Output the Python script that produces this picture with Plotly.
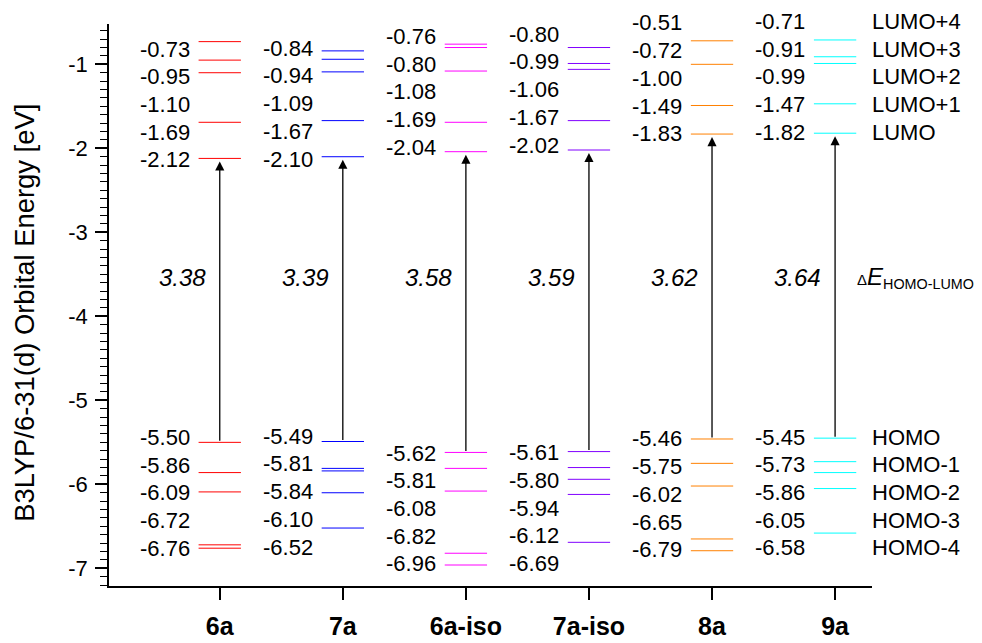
import plotly.graph_objects as go

# ---------------- data ----------------
categories = ["6a", "7a", "6a-iso", "7a-iso", "8a", "9a"]
colors = ["#FF0000", "#0000FF", "#FF00FF", "#8000FF", "#FF8000", "#00FFFF"]

lumo   = [-2.12, -2.10, -2.04, -2.02, -1.83, -1.82]
lumo_1 = [-1.69, -1.67, -1.69, -1.67, -1.49, -1.47]
lumo_2 = [-1.10, -1.09, -1.08, -1.06, -1.00, -0.99]
lumo_3 = [-0.95, -0.94, -0.80, -0.99, -0.72, -0.91]
lumo_4 = [-0.73, -0.84, -0.76, -0.80, -0.51, -0.71]

homo   = [-5.50, -5.49, -5.62, -5.61, -5.46, -5.45]
homo_1 = [-5.86, -5.81, -5.81, -5.80, -5.75, -5.73]
homo_2 = [-6.09, -5.84, -6.08, -5.94, -6.02, -5.86]
homo_3 = [-6.72, -6.10, -6.82, -6.12, -6.65, -6.05]
homo_4 = [-6.76, -6.52, -6.96, -6.69, -6.79, -6.58]

gap = [3.38, 3.39, 3.58, 3.59, 3.62, 3.64]

lumo_names = ["LUMO", "LUMO+1", "LUMO+2", "LUMO+3", "LUMO+4"]
homo_names = ["HOMO", "HOMO-1", "HOMO-2", "HOMO-3", "HOMO-4"]
y_ticks = [-7, -6, -5, -4, -3, -2, -1]

# ---------------- layout constants ----------------
HALF_W = 0.172        # half width of a level line (x units)
LABEL_STEP = 27.7     # px between stacked value labels
GAP_Y = -3.54         # vertical position of the gap labels
FONT = "Liberation Sans, Arial, sans-serif"
# per-column vertical nudge (px) of the label stacks
LUMO_NUDGE = [-1.4, -2.3, 4.4, 5.0, 0.3, 1.0]
HOMO_NUDGE = [5.0, 5.3, -0.6, -1.3, 0.0, 1.0]

lumo_sets = [lumo, lumo_1, lumo_2, lumo_3, lumo_4]
homo_sets = [homo, homo_1, homo_2, homo_3, homo_4]

fig = go.Figure()
annotations = []

for i, cat in enumerate(categories):
    xc = i + 1
    xs, ys = [], []
    for s in lumo_sets + homo_sets:
        xs += [xc - HALF_W, xc + HALF_W, None]
        ys += [s[i], s[i], None]
    fig.add_trace(go.Scatter(x=xs, y=ys, mode="lines",
                             line=dict(color=colors[i], width=1),
                             hoverinfo="skip", showlegend=False))
    # value labels (LUMO stack upward, HOMO stack downward)
    for k, s in enumerate(lumo_sets):
        annotations.append(dict(x=xc, y=lumo[i], xref="x", yref="y",
                                text=f"{s[i]:.2f}", showarrow=False,
                                xanchor="right", yanchor="middle",
                                xshift=-28, yshift=LUMO_NUDGE[i] + LABEL_STEP * k,
                                font=dict(size=22, family=FONT, color="black")))
    for k, s in enumerate(homo_sets):
        annotations.append(dict(x=xc, y=homo[i], xref="x", yref="y",
                                text=f"{s[i]:.2f}", showarrow=False,
                                xanchor="right", yanchor="middle",
                                xshift=-28, yshift=HOMO_NUDGE[i] - LABEL_STEP * k,
                                font=dict(size=22, family=FONT, color="black")))
    # arrow HOMO -> LUMO
    annotations.append(dict(x=xc, y=lumo[i], ax=xc, ay=homo[i],
                            xref="x", yref="y", axref="x", ayref="y",
                            text="", showarrow=True, arrowhead=2,
                            arrowsize=1.4, arrowwidth=1.3, arrowcolor="black",
                            standoff=3))
    # gap label
    annotations.append(dict(x=xc, y=GAP_Y, xref="x", yref="y",
                            text=f"<i>{gap[i]:.2f}</i>", showarrow=False,
                            xanchor="right", yanchor="middle", xshift=-12,
                            font=dict(size=24, family=FONT, color="black")))

# orbital names on the right (aligned with last column's labels)
last = len(categories) - 1
for k, name in enumerate(lumo_names):
    annotations.append(dict(x=last + 1, y=lumo[last], xref="x", yref="y",
                            text=name, showarrow=False, xanchor="left",
                            yanchor="middle", xshift=35,
                            yshift=LUMO_NUDGE[last] + LABEL_STEP * k,
                            font=dict(size=22, family=FONT, color="black")))
for k, name in enumerate(homo_names):
    annotations.append(dict(x=last + 1, y=homo[last], xref="x", yref="y",
                            text=name, showarrow=False, xanchor="left",
                            yanchor="middle", xshift=35,
                            yshift=HOMO_NUDGE[last] - LABEL_STEP * k,
                            font=dict(size=22, family=FONT, color="black")))

annotations.append(dict(x=last + 1, y=GAP_Y, xref="x", yref="y",
                        text="<span style='font-size:15px'>Δ</span>"
                             "<i><span style='font-size:24px'>E</span></i>"
                             "<sub>HOMO-LUMO</sub>",
                        showarrow=False, xanchor="left", yanchor="middle",
                        xshift=20, font=dict(size=20.5, family=FONT, color="black")))

# y axis title
annotations.append(dict(x=0, y=0.486, xref="paper", yref="paper",
                        text="B3LYP/6-31(d) Orbital Energy [eV]", textangle=-90,
                        showarrow=False, xanchor="center", yanchor="middle",
                        xshift=-84, font=dict(size=27.4, family=FONT, color="black")))

fig.update_layout(
    width=974, height=635,
    margin=dict(l=101, r=110, t=16, b=57, autoexpand=False),
    plot_bgcolor="white", paper_bgcolor="white",
    font=dict(family=FONT, color="black"),
    showlegend=False,
    annotations=annotations,
    xaxis=dict(range=[0.1, 6.3], tickmode="array", automargin=False,
               tickvals=list(range(1, len(categories) + 1)), ticktext=categories,
               ticks="outside", ticklen=12, tickwidth=1.5, tickcolor="black",
               showline=True, linewidth=1.5, linecolor="black",
               showgrid=False, zeroline=False, ticklabelstandoff=5,
               tickfont=dict(size=25, family=FONT, color="black", weight="bold")),
    yaxis=dict(range=[-7.21, -0.52], tickmode="array", automargin=False,
               tickvals=y_ticks, ticktext=[f"{v:d}" for v in y_ticks],
               ticks="outside", ticklen=12, tickwidth=1.5, tickcolor="black",
               minor=dict(ticks="outside", ticklen=7, tickwidth=1.2,
                          tickcolor="black", dtick=0.1, tick0=0),
               showline=True, linewidth=1.5, linecolor="black",
               showgrid=False, zeroline=False, ticklabelstandoff=3,
               tickfont=dict(size=22, family=FONT, color="black")),
)

fig.write_html("out.html")
